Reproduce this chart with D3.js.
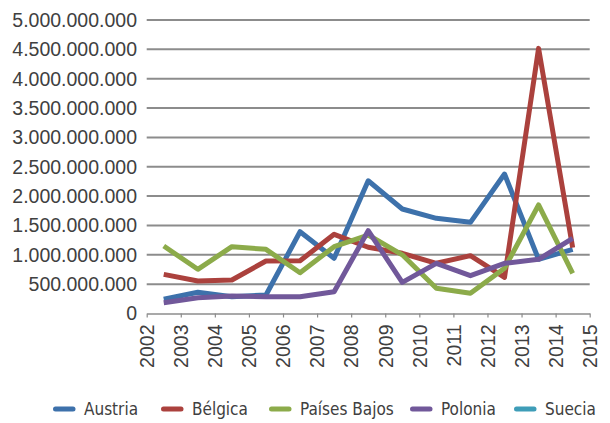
<!DOCTYPE html>
<html>
<head>
<meta charset="utf-8">
<script src="https://cdn.jsdelivr.net/npm/d3@7"></script>
<style>
  body { margin: 0; background: #fff; }
  svg { display: block; }
</style>
</head>
<body>
<svg id="svg"></svg>
<script>
// years on the category axis (data sit between the ticks)
const years = [2002, 2003, 2004, 2005, 2006, 2007, 2008, 2009, 2010, 2011, 2012, 2013, 2014];
const tickYears = [2002, 2003, 2004, 2005, 2006, 2007, 2008, 2009, 2010, 2011, 2012, 2013, 2014, 2015];
const yTicks = [0, 5e8, 1e9, 1.5e9, 2e9, 2.5e9, 3e9, 3.5e9, 4e9, 4.5e9, 5e9];

// values
const austria = [242e6, 361e6, 286e6, 315e6, 1393e6, 940e6, 2262e6, 1780e6, 1622e6, 1553e6, 2376e6, 923e6, 1093e6];
const belgica = [667e6, 553e6, 570e6, 894e6, 899e6, 1349e6, 1128e6, 1025e6, 855e6, 985e6, 616e6, 4517e6, 1121e6];
const paisesBajos = [1150e6, 753e6, 1139e6, 1093e6, 695e6, 1139e6, 1337e6, 1000e6, 429e6, 344e6, 770e6, 1849e6, 685e6];
const polonia = [184e6, 269e6, 298e6, 286e6, 286e6, 371e6, 1411e6, 531e6, 855e6, 644e6, 855e6, 923e6, 1281e6];
const suecia = [null, null, null, null, null, null, null, null, null, null, null, null, null];

const seriesNames = ["Austria", "Bélgica", "Países Bajos", "Polonia", "Suecia"];
const seriesValues = [austria, belgica, paisesBajos, polonia, suecia];
const seriesColours = ["#3d71ab", "#ab413d", "#8cab4a", "#71589a", "#3e9db8"];

const width = 610;
const height = 423;

let svg = d3.select("#svg").attr("width", width).attr("height", height);

const locale = d3.formatLocale({ decimal: ",", thousands: ".", grouping: [3], currency: ["", "€"] });
const fmt = locale.format(",d");

const x = d3.scaleLinear().domain([2002, 2015]).range([146.7, 589.7]);
const y = d3.scaleLinear().domain([0, 5e9]).range([313.5, 20]);

// gridlines
svg.append("g")
    .selectAll("line")
    .data(yTicks.slice(1))
    .join("line")
    .attr("x1", x(2002))
    .attr("x2", x(2015))
    .attr("y1", d => y(d))
    .attr("y2", d => y(d))
    .attr("stroke", "#8c8c8c")
    .attr("stroke-width", 2);

// y labels
svg.append("g")
    .selectAll("text")
    .data(yTicks)
    .join("text")
    .attr("x", 137)
    .attr("y", d => y(d))
    .attr("dy", "0.35em")
    .attr("text-anchor", "end")
    .style("font-family", "'Liberation Sans', Arial, sans-serif")
    .style("font-size", "19.5px")
    .style("fill", "#404040")
    .text(d => fmt(d));

// x axis
const xAxis = svg.append("g")
    .attr("transform", `translate(0,${y(0)})`)
    .call(d3.axisBottom(x).tickValues(tickYears).tickFormat(d3.format("d")).tickSize(4).tickSizeOuter(0));

xAxis.select(".domain").attr("stroke", "#8c8c8c").attr("stroke-width", 1.5);
xAxis.selectAll(".tick line").attr("stroke", "#8c8c8c").attr("stroke-width", 1.2);
xAxis.selectAll(".tick text")
    .attr("transform", "rotate(-90)")
    .attr("text-anchor", "end")
    .attr("x", -11)
    .attr("y", 0)
    .attr("dy", "0.35em")
    .style("font-family", "'Liberation Sans', Arial, sans-serif")
    .style("font-size", "19.5px")
    .style("fill", "#404040");

// lines
const line = d3.line()
    .defined(d => d.v !== null)
    .x(d => x(d.year + 0.5))
    .y(d => y(d.v));

seriesValues.forEach((vals, i) => {
    const pts = years.map((yr, j) => ({ year: yr, v: vals[j] }));
    svg.append("path")
        .datum(pts)
        .attr("fill", "none")
        .attr("stroke", seriesColours[i])
        .attr("stroke-width", 5)
        .attr("stroke-linejoin", "round")
        .attr("stroke-linecap", "butt")
        .attr("d", line);
});

// legend
const legendX = [53, 161, 269, 410, 514];
const legend = svg.append("g").attr("transform", "translate(0,409)");
seriesNames.forEach((name, i) => {
    legend.append("line")
        .attr("x1", legendX[i] + 2.5)
        .attr("x2", legendX[i] + 20)
        .attr("y1", 0)
        .attr("y2", 0)
        .attr("stroke", seriesColours[i])
        .attr("stroke-width", 5)
        .attr("stroke-linecap", "round");
    legend.append("text")
        .attr("x", legendX[i] + 31)
        .attr("y", 0)
        .attr("dy", "0.36em")
        .style("font-family", "'DejaVu Sans Condensed', 'DejaVu Sans', sans-serif")
        .style("font-stretch", "condensed")
        .style("font-size", "17px")
        .style("fill", "#404040")
        .text(name);
});
</script>
</body>
</html>
